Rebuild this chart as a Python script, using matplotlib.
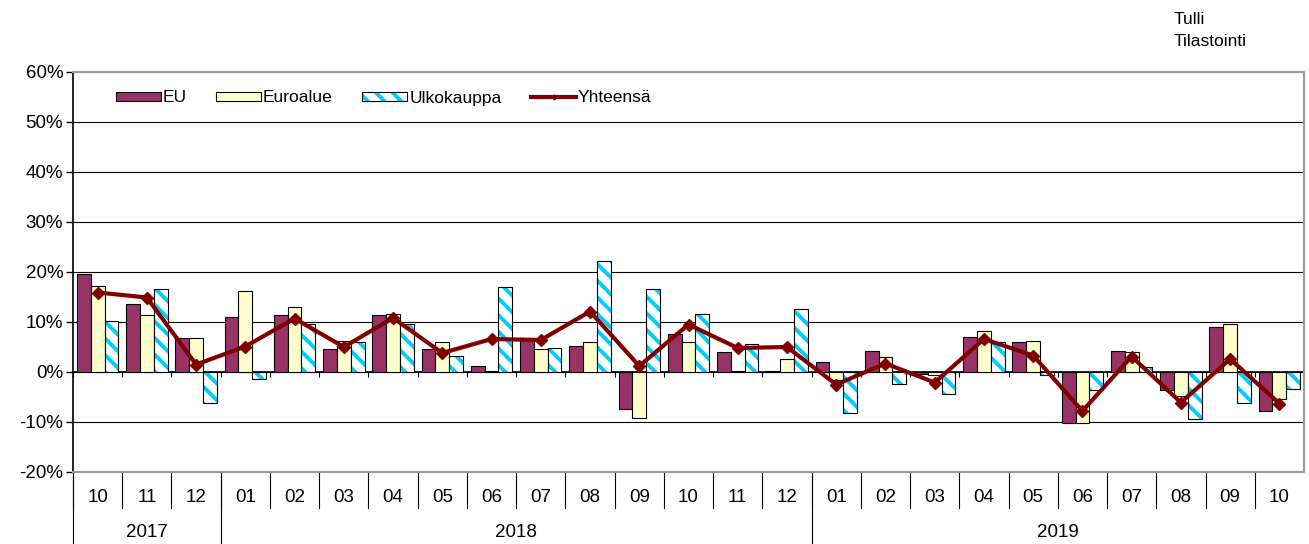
import numpy as np
import matplotlib
matplotlib.use("Agg")
import matplotlib.pyplot as plt
from matplotlib.patches import Patch
from matplotlib.lines import Line2D
from matplotlib.legend_handler import HandlerTuple
import matplotlib.transforms as mtransforms

plt.rcParams['font.family'] = ['Liberation Sans', 'DejaVu Sans']
plt.rcParams['hatch.linewidth'] = 2.8

# Kuukaudet ja vuodet
months = ['10', '11', '12', '01', '02', '03', '04', '05', '06', '07', '08', '09',
          '10', '11', '12', '01', '02', '03', '04', '05', '06', '07', '08', '09', '10']
years = ['2017', '2018', '2019']
year_spans = [(0, 2), (3, 14), (15, 24)]

# Muutos edellisen vuoden vastaavasta kuukaudesta, %
eu = [19.6, 13.6, 6.9, 11.0, 11.4, 4.6, 11.4, 4.7, 1.3, 6.9, 5.3, -7.4, 7.6,
      4.0, 0.2, 2.0, 4.3, -0.3, 7.0, 6.0, -10.2, 4.3, -3.5, 9.0, -7.7]
euroalue = [17.3, 11.5, 6.9, 16.3, 13.0, 6.3, 11.7, 6.0, 0.2, 4.6, 6.0, -9.1, 6.0,
            0.2, 2.6, -1.5, 3.0, -0.6, 8.3, 6.3, -10.2, 4.0, -4.8, 9.7, -5.3]
ulkokauppa = [10.3, 16.6, -6.1, -1.4, 9.7, 6.0, 9.7, 3.3, 17.0, 4.9, 22.3, 16.6, 11.7,
              5.6, 12.6, -8.1, -2.4, -4.4, 6.0, -0.6, -3.6, 1.0, -9.3, -6.1, -3.3]
yhteensa = [15.9, 14.9, 1.5, 5.1, 10.7, 5.0, 10.8, 3.8, 6.6, 6.4, 12.1, 1.2, 9.5,
            4.8, 5.0, -2.5, 1.7, -2.1, 6.6, 3.3, -7.8, 3.1, -6.1, 2.6, -6.3]

c_eu = '#993366'
c_euro = '#FFFFCC'
c_ulko = '#00CCFF'
c_line = '#800000'
fs = 12.5
fs_ax = 13.5

fig = plt.figure(figsize=(13.09, 5.44), dpi=100)
ax = fig.add_axes([73 / 1309, 72 / 544, 1231 / 1309, 400 / 544])

x = np.arange(len(months))
w = 0.28
ax.bar(x - w, eu, w, color=c_eu, edgecolor='black', linewidth=0.8, zorder=3)
ax.bar(x, euroalue, w, color=c_euro, edgecolor='black', linewidth=0.8, zorder=3)
ax.bar(x + w, ulkokauppa, w, color='white', edgecolor=c_ulko, hatch='\\\\',
       linewidth=0, zorder=3)
ax.bar(x + w, ulkokauppa, w, fill=False, edgecolor='black', linewidth=0.8, zorder=3)
ax.plot(x, yhteensa, color=c_line, linewidth=3, marker='D', markersize=6.5, zorder=4)

ax.set_xlim(-0.5, len(months) - 0.5)
ax.set_ylim(-20, 60)
ax.set_yticks(np.arange(-20, 61, 10))
ax.set_yticklabels([f'{v}%' for v in range(-20, 61, 10)], fontsize=fs_ax)
ax.tick_params(axis='y', direction='out', length=5, width=1, pad=2)
ax.set_xticks([])
ax.grid(axis='y', color='black', linewidth=0.8, zorder=0)
ax.axhline(0, color='black', linewidth=1.2, zorder=2)
for sp in ['top', 'right', 'bottom']:
    ax.spines[sp].set_color('#999999')
    ax.spines[sp].set_linewidth(1.5)
ax.spines['left'].set_linewidth(1.2)

# pienet jakoviivat nollatasolla
bounds = np.arange(-0.5, len(months), 1.0)
ax.vlines(bounds, -1.0, 0, color='black', linewidth=0.8, zorder=2)

# luokka-akseli: kuukaudet ja vuodet
trans = mtransforms.blended_transform_factory(ax.transData, ax.transAxes)
for i, m in enumerate(months):
    ax.text(i, -0.064, m, transform=trans, ha='center', va='center', fontsize=fs_ax)
for b in bounds[:-1]:
    ax.plot([b, b], [0, -0.09], transform=trans, color='black', linewidth=0.8,
            clip_on=False)
for yr, (a, b) in zip(years, year_spans):
    ax.text((a + b) / 2, -0.151, yr, transform=trans, ha='center', va='center',
            fontsize=fs_ax)
    ax.plot([a - 0.5, a - 0.5], [0, -0.19], transform=trans, color='black',
            linewidth=0.8, clip_on=False)

# selite
h_eu = Patch(facecolor=c_eu, edgecolor='black', linewidth=0.8)
h_euro = Patch(facecolor=c_euro, edgecolor='black', linewidth=0.8)
h_ulko = (Patch(facecolor='white', edgecolor=c_ulko, hatch='\\\\', linewidth=0),
          Patch(fill=False, edgecolor='black', linewidth=0.8))
h_line = Line2D([], [], color=c_line, linewidth=3, marker='D', markersize=2.5)
ax.legend([h_eu, h_euro, h_ulko, h_line], ['EU', 'Euroalue', 'Ulkokauppa', 'Yhteensä'],
          handler_map={tuple: HandlerTuple(ndivide=1)},
          loc='center left', bbox_to_anchor=(0.022, 0.935), ncol=4, frameon=False,
          fontsize=fs, handlelength=2.6, handleheight=0.45, handletextpad=0.1,
          columnspacing=1.7)

fig.text(1174 / 1309, 1 - 20 / 544, 'Tulli', fontsize=fs, ha='left', va='center')
fig.text(1174 / 1309, 1 - 41 / 544, 'Tilastointi', fontsize=fs, ha='left', va='center')

fig.savefig('out.png', dpi=100)
